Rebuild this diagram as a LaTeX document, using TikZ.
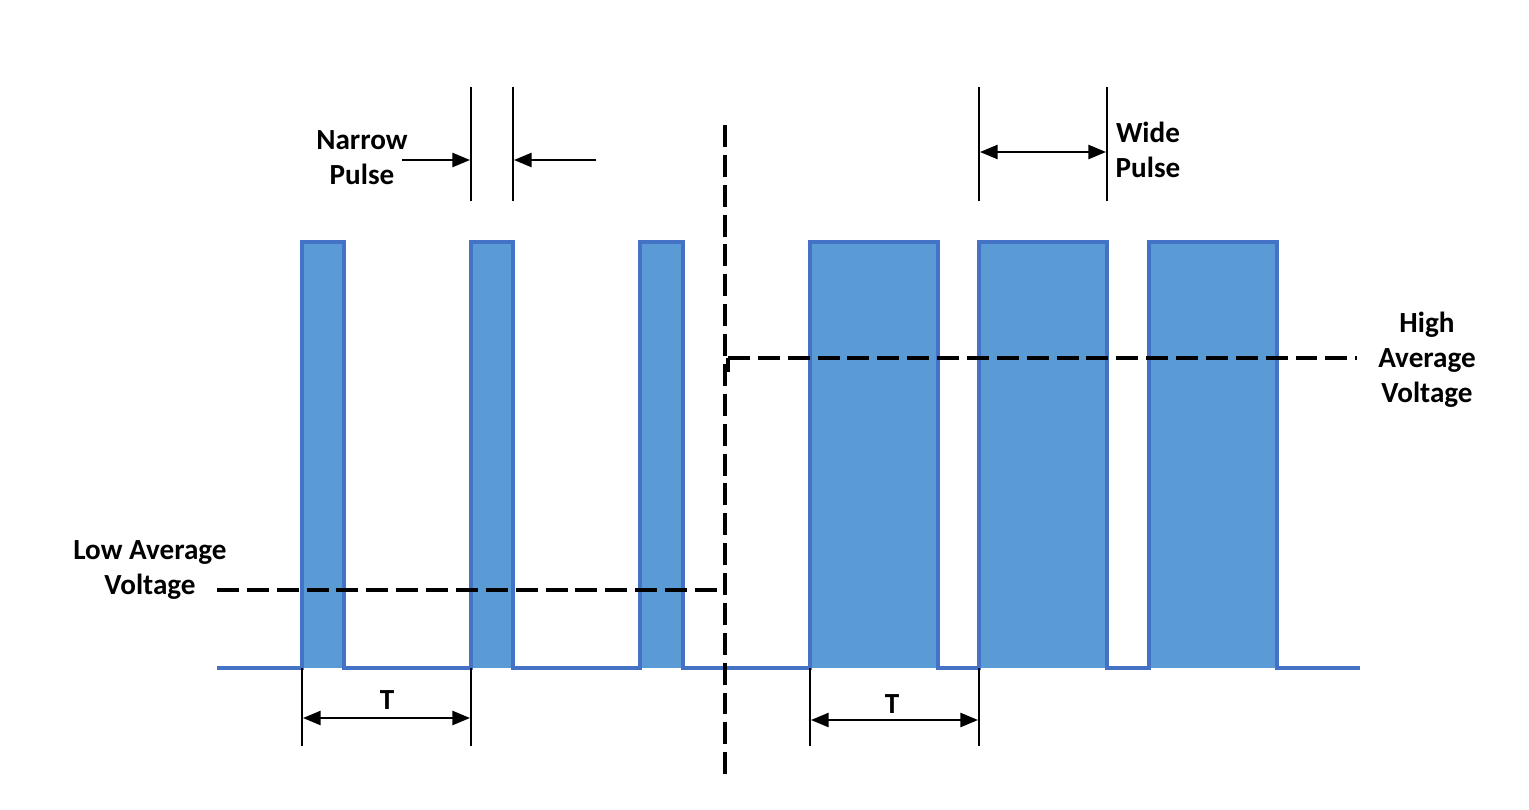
\documentclass[tikz,border=0pt]{standalone}
\usepackage{fontspec}
\setmainfont{Carlito}
\usetikzlibrary{arrows.meta}
\usetikzlibrary{positioning}
\tikzset{wave/.style = {pline, line width=2.3pt, line join=miter},
         avgline/.style = {black, line width=2.3pt, dash pattern=on 12.5pt off 4.5pt},
         tick/.style = {black, line width=1.2pt},
         dimarrow/.style = {black, line width=1.2pt, -{Triangle[length=10pt,width=8pt]}},
         dimboth/.style = {black, line width=1.2pt, {Triangle[length=10pt,width=8pt]}-{Triangle[length=10pt,width=8pt]}},
         lbl/.style = {font=\bfseries\fontsize{16.6}{20}\selectfont, align=center, inner sep=0pt}}
\definecolor{pfill}{HTML}{5B9BD5}
\definecolor{pline}{HTML}{4472C4}

\begin{document}
\begin{tikzpicture}[x=0.02cm, y=-0.02cm]
    \useasboundingbox (0, 0) rectangle (1529, 809);

    % pulses
    \foreach \a/\b in {302/344, 471/513, 640/683, 810/938, 979/1107, 1149/1277}
      \fill [pfill] (\a, 242) rectangle (\b, 668);
    \draw [wave] (217, 668)
      \foreach \a/\b in {302/344, 471/513, 640/683, 810/938, 979/1107, 1149/1277}
        { -- (\a, 668) -- (\a, 242) -- (\b, 242) -- (\b, 668) }
      -- (1360, 668);

    % averages and split
    \coordinate (lowL) at (217, 590);
    \coordinate (lowR) at (722, 590);
    \coordinate (splitT) at (725, 125);
    \coordinate (splitB) at (725, 776);
    \coordinate (highL) at (728, 372);
    \coordinate (highC) at (728, 358);
    \coordinate (highR) at (1357, 358);
    \draw [avgline] (lowL) -- (lowR);
    \draw [avgline] (splitT) -- (splitB);
    \draw [avgline, dash pattern=on 12.5pt off 0pt] (highL) -- (highC);
    \draw [avgline] (highC) -- (highR);

    \node [lbl] (lowtxt) at (150, 570) {Low Average\\Voltage};
    \node [lbl] (hightxt) at (1427, 360) {High\\Average\\Voltage};

    % narrow pulse marks
    \coordinate (n1t) at (471, 87);
    \coordinate (n1b) at (471, 201);
    \coordinate (n2t) at (513, 87);
    \coordinate (n2b) at (513, 201);
    \draw [tick] (n1t) -- (n1b);
    \draw [tick] (n2t) -- (n2b);
    \node [lbl] (narrowtxt) at (362, 158) {Narrow\\Pulse};
    \coordinate (na1) at (402, 160);
    \coordinate (na2) at (470, 160);
    \coordinate (nb1) at (596, 160);
    \coordinate (nb2) at (514, 160);
    \draw [dimarrow] (na1) -- (na2);
    \draw [dimarrow] (nb1) -- (nb2);

    % wide pulse marks
    \coordinate (w1t) at (979, 87);
    \coordinate (w1b) at (979, 201);
    \coordinate (w2t) at (1107, 87);
    \coordinate (w2b) at (1107, 201);
    \draw [tick] (w1t) -- (w1b);
    \draw [tick] (w2t) -- (w2b);
    \draw [dimboth] (980, 152) coordinate (wa) -- (1106, 152) coordinate (wb);
    \node [lbl] (widetxt) at (1148, 150) {Wide\\Pulse};

    % periods
    \foreach \x/\n in {302/p1, 471/p2, 810/p3, 979/p4} {
      \coordinate (\n t) at (\x, 668);
      \coordinate (\n b) at (\x, 746);
      \draw [tick] (\n t) -- (\n b);
    }
    \draw [dimboth] (303, 718) -- (470, 718);
    \draw [dimboth] (811, 720) -- (978, 720);
    \node [lbl] (per1) at (387, 700) {T};
    \node [lbl] (per2) at (892, 704) {T};
  \end{tikzpicture}
\end{document}
